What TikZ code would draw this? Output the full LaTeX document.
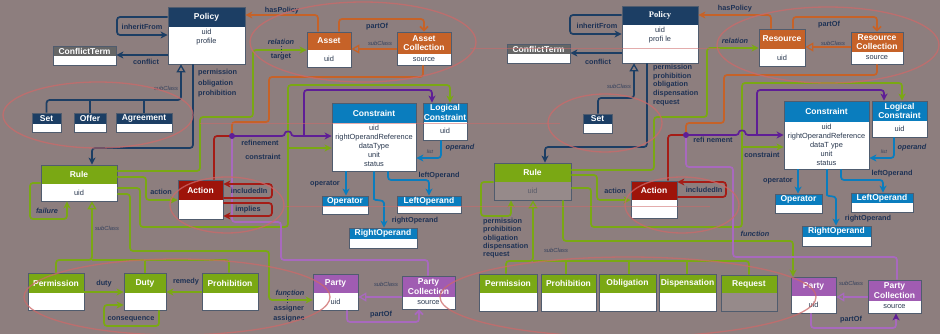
\documentclass[tikz,border=0pt]{standalone}
\usepackage{fontspec}
\setmainfont{Liberation Sans}
\newfontfamily\serifbf{Liberation Serif}
\usetikzlibrary{arrows.meta,fit,calc}
\definecolor{bgc}{RGB}{141,126,126}
\definecolor{navy}{RGB}{28,62,100}
\definecolor{lblc}{RGB}{30,50,85}
\definecolor{greyh}{RGB}{102,102,102}
\definecolor{grn}{RGB}{122,168,20}
\definecolor{orng}{RGB}{198,98,40}
\definecolor{blu}{RGB}{10,125,190}
\definecolor{redh}{RGB}{158,20,10}
\definecolor{redc}{RGB}{165,28,22}
\definecolor{purh}{RGB}{160,92,178}
\definecolor{purc}{RGB}{168,105,190}
\definecolor{dpur}{RGB}{95,30,150}
\definecolor{ellc}{RGB}{205,105,105}
\definecolor{boxc}{RGB}{80,92,110}
\definecolor{bodyc}{RGB}{40,55,78}
\definecolor{gbody}{RGB}{150,138,138}
\tikzset{
 conn/.style={line width=1.7pt, rounded corners=3pt},
 tip/.style={-{Stealth[length=7pt,width=7pt,inset=1.8pt]}},
 otri/.style={-{Triangle[open,length=8pt,width=9pt,line width=1.3pt]}},
 ovee/.style={-{Straight Barb[length=4pt,width=8pt]}},
 lbl/.style={inner sep=0pt, text=lblc, font=\bfseries\fontsize{7.3}{8.6}\selectfont},
 ilbl/.style={lbl, font=\bfseries\itshape\fontsize{7.3}{8.6}\selectfont},
 sublbl/.style={inner sep=0pt, text=lblc!80!bgc, font=\itshape\fontsize{5.8}{7}\selectfont},
 hd/.style={inner sep=0pt, text=white, align=center, font=\bfseries\fontsize{8.5}{9.6}\selectfont},
 bd/.style={inner sep=0pt, text=bodyc, align=center, font=\fontsize{7.4}{9}\selectfont},
 bodyfill/.style={fill=white},
 ell/.style={draw=ellc, line width=1.3pt, opacity=0.75},
 rline/.style={draw=ellc, line width=0.8pt, opacity=0.55},
 dotl/.style={draw=lblc, dotted, line width=0.8pt},
}
% name, x1, y1, x2, y2, yheader, colour, title, body
\newcommand\umlbox[9]{%
  \fill[#7] (#2,#3) rectangle (#4,#6);
  \fill[bodyfill] (#2,#6) rectangle (#4,#5);
  \node[fit={(#2,#3) (#4,#5)}, inner sep=0pt, draw=boxc, line width=0.7pt] (#1) {};
  \node[hd] (#1-t) at ({(#2+#4)/2},{(#3+#6)/2}) {#8};
  \node[bd] (#1-b) at ({(#2+#4)/2},{(#6+#5)/2}) {#9};
}
\begin{document}
\begin{tikzpicture}[x=1pt,y=-1pt]
\useasboundingbox (0,0) rectangle (940,334);
\fill[bgc] (0,0) rectangle (940,334);

% ================= LEFT HALF =================
\umlbox{policyL}{168}{7}{245}{64}{27}{navy}{Policy}{}
\node[bd,anchor=north] (policyLb) at (206.5,29) {uid\\profile};
\umlbox{ctL}{53}{46}{116}{65}{56}{greyh}{ConflictTerm}{}
\umlbox{setL}{32}{113}{61}{132}{124}{navy}{Set}{}
\umlbox{offerL}{74}{113}{106}{132}{124}{navy}{Offer}{}
\umlbox{agreeL}{116}{113}{172}{132}{124}{navy}{Agreement}{}
\umlbox{ruleL}{41}{165}{117}{201}{184}{grn}{Rule}{uid}
\umlbox{actionL}{178}{180}{223}{219}{200}{redh}{Action}{}
\umlbox{assetL}{307}{32}{351}{67}{50}{orng}{Asset}{uid}
\umlbox{acL}{397}{32}{451}{65}{54}{orng}{Asset\\Collection}{source}
\umlbox{consL}{332}{103}{416}{171}{123}{blu}{Constraint}{}
\node[bd,anchor=north] (consLb) at (374,125) {uid\\rightOperandReference\\dataType\\unit\\status};
\umlbox{lcL}{423}{103}{467}{140}{122}{blu}{Logical\\Constraint}{uid}
\umlbox{opL}{322}{196}{368}{214}{206}{blu}{Operator}{}
\umlbox{loL}{397}{196}{461}{213}{206}{blu}{LeftOperand}{}
\umlbox{roL}{349}{228}{417}{248}{239}{blu}{RightOperand}{}
\umlbox{permL}{28}{273}{84}{310}{293}{grn}{Permission}{}
\umlbox{dutyL}{124}{273}{166}{310}{293}{grn}{Duty}{}
\umlbox{prohL}{202}{273}{258}{310}{293}{grn}{Prohibition}{}
\umlbox{partyL}{313}{274}{358}{310}{293}{purh}{Party}{uid}
\umlbox{pcL}{402}{276}{455}{309}{297}{purh}{Party\\Collection}{source}

% policy relations
\draw[conn,navy,tip] (policyL.west |- 0,17) -- (117,17) -- (117,35) -- (policyL.west |- 0,35);
\node[lbl] (lInh) at (142,27) {inheritFrom};
\draw[conn,navy,tip] (policyL.west |- 0,55) -- (ctL.east |- 0,55);
\node[lbl] (lConf) at (146,62) {conflict};
\draw[conn,navy,otri] (setL.north) -- (46.5,100) -- (181,100) -- (policyL.south -| 181,0);
\draw[conn,navy] (offerL.north) -- (90,100);
\draw[conn,navy] (agreeL.north) -- (144,100);
\node[sublbl] (lsub1) at (166,88) {subClass};
\draw[conn,navy,tip] (policyL.south -| 193,0) -- (193,148) -- (92,148) -- (ruleL.north -| 92,0);
\node[lbl,anchor=north west,align=left,font=\bfseries\fontsize{7.3}{10.5}\selectfont] (lpop) at (198,69.5) {permission\\obligation\\prohibition};

% rule relations
\draw[conn,grn,tip] (ruleL.west |- 0,183) -- (30,183) -- (30,219) -- (67,219) -- (ruleL.south -| 67,0);
\node[ilbl] (lfail) at (47,211) {failure};
\draw[conn,grn,otri] (permL.north -| 56,0) -- (56,260) -- (92,260) -- (ruleL.south -| 92,0);
\draw[conn,grn] (92,260) -- (229,260) -- (prohL.north -| 229,0);
\draw[conn,grn] (145,260) -- (dutyL.north -| 145,0);
\node[sublbl] (lsub2) at (107,228) {subClass};
\draw[conn,grn,tip] (permL.east |- 0,292) -- (dutyL.west |- 0,292);
\node[lbl] (lduty) at (104,284) {duty};
\draw[conn,grn,tip] (prohL.west |- 0,292) -- (dutyL.east |- 0,292);
\node[lbl] (lrem) at (186,282) {remedy};
\draw[conn,grn,tip] (dutyL.south -| 159,0) -- (159,326) -- (104,326) -- (104,305) -- (dutyL.west |- 0,305);
\node[lbl] (lcons) at (131,319) {consequence};
\draw[conn,grn,tip] (ruleL.east |- 0,177) -- (146,177) -- (146,200) -- (actionL.west |- 0,200);
\node[lbl] (lact) at (161,192) {action};
\draw[conn,grn,tip] (ruleL.east |- 0,171) -- (200,171) -- (200,117) -- (253,117) -- (253,50) -- (assetL.west |- 0,50);
\node[ilbl] (lrel) at (281,42) {relation};
\node[lbl] (ltgt) at (281,57) {target};
\draw[dotl] (281,46) -- (281,53);
\draw[conn,grn,tip] (ruleL.east |- 0,188) -- (140,188) -- (140,227) -- (288,227) -- (288,85) -- (450,85) -- (lcL.north -| 450,0);
\draw[conn,grn,tip] (288,148) -- (consL.west |- 0,148);
\node[lbl] (lcon) at (263,157) {constraint};
\draw[conn,grn,tip] (ruleL.east |- 0,194) -- (130,194) -- (130,251) -- (269,251) -- (269,300) -- (partyL.west |- 0,300);
\node[ilbl] (lfun) at (290,293) {function};
\draw[dotl] (287,296) -- (287,304);
\node[lbl] (lasr) at (289,309) {assigner};
\node[lbl] (lase) at (289,319) {assignee};

% asset relations
\draw[conn,orng,tip] (assetL.north -| 318,0) -- (318,15) -- (policyL.east |- 0,15);
\node[lbl] (lhas) at (282,11) {hasPolicy};
\draw[conn,orng,ovee] (assetL.north -| 339,0) -- (339,19) -- (424,19) -- (acL.north -| 424,0);
\node[lbl] (lpart1) at (377,27) {partOf};
\draw[conn,orng,otri] (acL.west |- 0,49) -- (assetL.east |- 0,49);
\node[sublbl] (lsub3) at (380,43) {subClass};

% refinement hub
\coordinate (dotL) at (232,136);
\draw[conn,orng] (acL.south -| 423,0) -- (423,77) -- (269,77) -- (269,122) -- (232,122) -- (dotL);
\draw[conn,redc] (actionL.north -| 214,0) -- (214,136) -- (dotL);
\draw[conn,purc] (pcL.north -| 428,0) -- (428,260) -- (281,260) -- (281,222) -- (232,222) -- (dotL);
\draw[conn,dpur,tip] (dotL) -- (285,136) .. controls (285,131) and (291,131) .. (291,136) -- (consL.west |- 0,136);
\draw[conn,dpur,tip] (304,136) -- (304,90) -- (432,90) -- (lcL.north -| 432,0);
\fill[dpur] (dotL) circle (3);
\node[lbl] (lref) at (260,143) {refinement};

% action loops
\draw[conn,redc,tip] (actionL.east |- 0,198) -- (272,198) -- (272,184) -- (actionL.east |- 0,184);
\node[lbl] (linc) at (249,191) {includedIn};
\draw[conn,redc,tip] (actionL.east |- 0,203) -- (272,203) -- (272,216) -- (actionL.east |- 0,216);
\node[lbl] (limp) at (248,210) {implies};

% constraint relations
\draw[conn,blu,tip] (lcL.south -| 441,0) -- (441,158) -- (consL.east |- 0,158);
\node[sublbl,font=\itshape\fontsize{5}{6}\selectfont] (llist) at (430,152) {list};
\node[ilbl] (lopd) at (460,148) {operand};
\draw[conn,blu,tip] (consL.south -| 346,0) -- (opL.north -| 346,0);
\node[lbl] (lopr) at (325,184) {operator};
\draw[conn,blu,tip] (consL.south -| 388,0) -- (388,180) -- (429,180) -- (loL.north -| 429,0);
\node[lbl] (llo) at (439,176) {leftOperand};
\draw[conn,blu,tip] (consL.south -| 374,0) -- (374,196) .. controls (374,201) and (384,199) .. (384,206) -- (roL.north -| 384,0);
\node[lbl] (lro) at (415,221) {rightOperand};

% party relations
\draw[conn,purc,otri] (pcL.west |- 0,297) -- (partyL.east |- 0,297);
\node[sublbl] (lsub4) at (386,284) {subClass};
\draw[conn,purc,ovee] (partyL.south -| 347,0) -- (347,322) -- (419,322) -- (pcL.south -| 419,0);
\node[lbl] (lpart2) at (381,315) {partOf};

% ================= RIGHT HALF =================
\umlbox{policyR}{622}{6}{698}{63}{25}{navy}{\serifbf Policy}{}
\node[bd,anchor=north] (policyRb) at (660,27) {uid\\profi le};
\umlbox{ctR}{507}{44}{570}{63}{54}{greyh}{ConflictTerm}{}
\umlbox{setR}{583}{114}{612}{133}{124}{navy}{Set}{}
\begin{scope}[bodyfill/.style={fill=gbody}]
\umlbox{ruleR}{494}{163}{571}{200}{182}{grn}{Rule}{\color{bodyc!55!gbody}uid}
\umlbox{reqR}{721}{275}{777}{311}{293}{grn}{Request}{}
\end{scope}
\umlbox{actionR}{631}{181}{677}{218}{200}{redh}{Action}{}
\umlbox{resR}{759}{29}{805}{66}{49}{orng}{Resource}{uid}
\umlbox{rcR}{851}{32}{903}{64}{52}{orng}{Resource\\Collection}{source}
\umlbox{consR}{784}{101}{869}{169}{122}{blu}{Constraint}{}
\node[bd,anchor=north] (consRb) at (826.5,124) {uid\\rightOperandReference\\dataT ype\\unit\\status};
\umlbox{lcR}{872}{101}{927}{137}{121}{blu}{Logical\\Constraint}{uid}
\umlbox{opR}{775}{194}{822}{213}{205}{blu}{Operator}{}
\umlbox{loR}{851}{193}{913}{212}{203}{blu}{LeftOperand}{}
\umlbox{roR}{802}{226}{871}{246}{237}{blu}{RightOperand}{}
\umlbox{permR}{479}{274}{537}{311}{293}{grn}{Permission}{}
\umlbox{prohR}{541}{274}{596}{311}{293}{grn}{Prohibition}{}
\umlbox{oblR}{599}{274}{656}{311}{293}{grn}{Obligation}{}
\umlbox{dispR}{659}{274}{716}{311}{293}{grn}{Dispensation}{}
\umlbox{partyR}{791}{277}{836}{313}{296}{purh}{Party}{uid}
\umlbox{pcR}{868}{280}{921}{313}{301}{purh}{Party\\Collection}{source}

% policy relations
\draw[conn,navy,tip] (policyR.west |- 0,15) -- (570,15) -- (570,34) -- (policyR.west |- 0,34);
\node[lbl] (rInh) at (597,26) {inheritFrom};
\draw[conn,navy,tip] (policyR.west |- 0,53) -- (ctR.east |- 0,53);
\node[lbl] (rConf) at (598,62) {conflict};
\draw[conn,navy,otri] (setR.north -| 598,0) -- (598,98) -- (634,98) -- (policyR.south -| 634,0);
\node[sublbl] (rsub1) at (619,86) {subClass};
\draw[conn,navy,tip] (policyR.south -| 647,0) -- (647,147) -- (545,147) -- (ruleR.north -| 545,0);
\node[lbl,anchor=north west,align=left,font=\bfseries\fontsize{7.3}{8.75}\selectfont] (rpop) at (653,64) {permission\\prohibition\\obligation\\dispensation\\request};

% rule relations
\draw[conn,grn,tip] (ruleR.west |- 0,182) -- (481,182) -- (481,216) -- (511,216) -- (ruleR.south -| 511,0);
\node[lbl,anchor=north west,align=left,font=\bfseries\fontsize{7.3}{8.3}\selectfont] (rpop2) at (483,218) {permission\\prohibition\\obligation\\dispensation\\request};
\draw[conn,grn,otri] (permR.north -| 506,0) -- (506,261) -- (533,261) -- (ruleR.south -| 533,0);
\draw[conn,grn] (533,261) -- (749,261) -- (reqR.north -| 749,0);
\draw[conn,grn] (566,261) -- (prohR.north -| 566,0);
\draw[conn,grn] (629,261) -- (oblR.north -| 629,0);
\draw[conn,grn] (687,261) -- (dispR.north -| 687,0);
\node[sublbl] (rsub2) at (556,250) {subClass};
\draw[conn,grn,tip] (ruleR.east |- 0,175) -- (597,175) -- (597,200) -- (actionR.west |- 0,200);
\node[lbl] (ract) at (615,191) {action};
\draw[conn,grn,tip] (ruleR.east |- 0,170) -- (654,170) -- (654,117) -- (707,117) -- (707,48) -- (resR.west |- 0,48);
\node[ilbl] (rrel) at (735,41) {relation};
\draw[conn,grn,tip] (ruleR.east |- 0,188) -- (591,188) -- (591,227) -- (742,227) -- (742,83) -- (902,83) -- (lcR.north -| 902,0);
\draw[conn,grn,tip] (742,147) -- (consR.west |- 0,147);
\node[lbl] (rcon) at (762,155) {constraint};
\draw[conn,grn,tip] (ruleR.south -| 563,0) -- (563,241) -- (793,241) -- (partyR.north -| 793,0);
\node[ilbl] (rfun) at (755,234) {function};

% resource relations
\draw[conn,orng,tip] (resR.north -| 771,0) -- (771,15) -- (policyR.east |- 0,15);
\node[lbl] (rhas) at (735,9) {hasPolicy};
\draw[conn,orng,ovee] (resR.north -| 793,0) -- (793,17) -- (877,17) -- (rcR.north -| 877,0);
\node[lbl] (rpart1) at (829,25) {partOf};
\draw[conn,orng,otri] (rcR.west |- 0,47) -- (resR.east |- 0,47);
\node[sublbl] (rsub3) at (833,43) {subClass};

% refinement hub
\coordinate (dotR) at (686,135);
\draw[conn,orng] (rcR.south -| 877,0) -- (877,75) -- (724,75) -- (724,123) -- (686,123) -- (dotR);
\draw[conn,redc] (actionR.north -| 668,0) -- (668,135) -- (dotR);
\draw[conn,purc] (pcR.north -| 897,0) -- (897,257) -- (733,257) -- (733,167) -- (686,167) -- (dotR);
\draw[conn,dpur,tip] (dotR) -- (739,135) .. controls (739,130) and (745,130) .. (745,135) -- (consR.west |- 0,135);
\draw[conn,dpur,tip] (757,135) -- (757,90) -- (884,90) -- (lcR.north -| 884,0);
\fill[dpur] (dotR) circle (3);
\node[lbl] (rref) at (713,140) {refi nement};

% action loop
\draw[conn,redc,tip] (actionR.east |- 0,197) -- (726,197) -- (726,182) -- (actionR.east |- 0,182);
\node[lbl] (rinc) at (704,190) {includedIn};

% constraint relations
\draw[conn,blu,tip] (lcR.south -| 894,0) -- (894,158) -- (consR.east |- 0,158);
\node[sublbl,font=\itshape\fontsize{5}{6}\selectfont] (rlist) at (884,152) {list};
\node[ilbl] (ropd) at (912,148) {operand};
\draw[conn,blu,tip] (consR.south -| 798,0) -- (opR.north -| 798,0);
\node[lbl] (ropr) at (778,181) {operator};
\draw[conn,blu,tip] (consR.south -| 841,0) -- (841,180) -- (883,180) -- (loR.north -| 883,0);
\node[lbl] (rlo) at (892,174) {leftOperand};
\draw[conn,blu,tip] (consR.south -| 827,0) -- (827,192) .. controls (827,197) and (836,195) .. (836,202) -- (roR.north -| 836,0);
\node[lbl] (rro) at (868,219) {rightOperand};

% party relations
\draw[conn,purc,otri] (pcR.west |- 0,297) -- (partyR.east |- 0,297);
\node[sublbl] (rsub4) at (851,283) {subClass};
\draw[conn,purc,-{Stealth[length=7pt,width=7pt,inset=1.8pt,color=dpur]}] (partyR.south -| 811,0) -- (811,328) -- (896,328) -- (pcR.south -| 896,0);
\node[lbl] (rpart2) at (851,320) {partOf};

% ================= annotation overlay =================
\draw[ell] (98,115) ellipse [x radius=95, y radius=33];
\draw[ell] (363,42) ellipse [x radius=113, y radius=40];
\draw[ell] (227,205) ellipse [x radius=57, y radius=28];
\draw[ell] (177,297) ellipse [x radius=153, y radius=38];
\draw[ell] (628,297) ellipse [x radius=188, y radius=40];
\draw[ell] (605,123) ellipse [x radius=57, y radius=29];
\draw[ell] (828,45) ellipse [x radius=111, y radius=38];
\draw[ell] (682,205) ellipse [x radius=57, y radius=28];
\draw[rline] (470,48) -- (720,48);
\draw[rline] (200,123) -- (560,123);
\draw[rline] (285,206) -- (710,206);
\end{tikzpicture}
\end{document}
